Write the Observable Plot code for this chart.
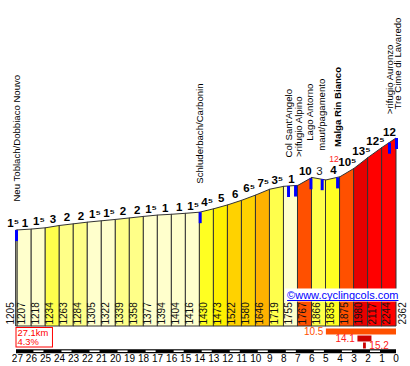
<!DOCTYPE html>
<html><head><meta charset="utf-8">
<script src="https://cdn.jsdelivr.net/npm/d3@7"></script>
<script src="https://cdn.jsdelivr.net/npm/@observablehq/plot@0.6"></script>
<style>body{margin:0;background:#fff}</style>
</head><body>
<div id="chart"></div>
<script>
// ---- data ----
const kmPoints = [27.1, 27, 26, 25, 24, 23, 22, 21, 20, 19, 18, 17, 16, 15, 14, 13, 12, 11, 10, 9, 8, 7, 6, 5, 4, 3, 2, 1, 0];
const elevations = [1205, 1207, 1218, 1234, 1263, 1284, 1305, 1322, 1339, 1358, 1377, 1394, 1404, 1416, 1430, 1473, 1522, 1580, 1646, 1719, 1755, 1767, 1866, 1835, 1875, 1980, 2117, 2244, 2362];
const gradientLabels = [1.5, 1, 1.5, 3, 2, 2, 1.5, 1.5, 2, 2, 1.5, 1, 1, 1.5, 4.5, 5, 6, 6.5, 7.5, 3.5, 1, 10, 3, 4, 10.5, 13.5, 12.5, 12];
const placeNames = ["Neu Toblach/Dobbiaco Nouvo", "Schluderbach/Carbonin", "Col Sant'Angelo", ">rifugio Alpino", "Lago Antorno", "maut/pagamento", "Malga Rin Bianco", ">rifugio Auronzo", "Tre Cime di Lavaredo"];
const placeKm = [27.1, 14, 7.7, 7.2, 6.1, 5.3, 4.2, 0.5, 0];
const kmTicks = [27, 26, 25, 24, 23, 22, 21, 20, 19, 18, 17, 16, 15, 14, 13, 12, 11, 10, 9, 8, 7, 6, 5, 4, 3, 2, 1, 0];
const climbLength = "27.1km";
const climbAverage = "4.3%";
const steepValues = [10.5, 14.1, 15.2];
const steepFromKm = [5, 2.75, 2.35];
const steepToKm = [0, 1.75, 2.15];
const noteKm = [4.2];
const noteText = ["12"];
const credit = "©www.cyclingcols.com";

// ---- layout / style ----
const W = 410, H = 366, mL = 16, mR = 14, mT = 138, mB = 40;
const yMax = d3.max(elevations);
const pxPerM = (H - mT - mB) / yMax;
const pxPerKm = (W - mL - mR) / 27.1;
const py = px => -px / pxPerM;           // pixel offset below baseline -> y units
const up = px => px / pxPerM;
const FONT = "Liberation Sans, Arial, DejaVu Sans, sans-serif";
// label placement tweaks (pixels) to keep names apart
const labelShift = {">rifugio Alpino": 3.5, "Lago Antorno": -1.4, "Tre Cime di Lavaredo": 1};
const labelLift = {"Lago Antorno": 38, "Malga Rin Bianco": 31};

function elevAt(km) {
  for (let i = 0; i < kmPoints.length - 1; i++) {
    const a = kmPoints[i], b = kmPoints[i + 1];
    if (km <= a && km >= b) {
      const t = (a - km) / (a - b);
      return elevations[i] + t * (elevations[i + 1] - elevations[i]);
    }
  }
  return elevations[elevations.length - 1];
}
const fmtGrad = g => Math.floor(g) + (g % 1 ? "\u2075" : "");

const segs = gradientLabels.map((g, i) => ({
  i, g, k0: kmPoints[i], k1: kmPoints[i + 1], e0: elevations[i], e1: elevations[i + 1],
  mid: (kmPoints[i] + kmPoints[i + 1]) / 2, top: Math.max(elevations[i], elevations[i + 1]),
  down: elevations[i + 1] < elevations[i], label: fmtGrad(g)
}));
const areaRows = segs.flatMap(s => [
  {seg: s.i, g: s.g, km: s.k0, elev: s.e0},
  {seg: s.i, g: s.g, km: s.k1, elev: s.e1}
]);
const pts = kmPoints.map((km, i) => ({km, elev: elevations[i], i}));
const places = placeNames.map((name, i) => ({
  name, km: placeKm[i], elev: elevAt(placeKm[i]),
  lx: placeKm[i] - (labelShift[name] || 0) / pxPerKm,
  ly: elevAt(placeKm[i]) + up(labelLift[name] || 29),
  bold: name === "Malga Rin Bianco"
}));
const steep = steepValues.map((v, i) => ({v, k0: steepFromKm[i], k1: steepToKm[i], i}));
const whiteKm = kmTicks.filter(k => k >= 2 && k % 2 === 0);
const notes = noteKm.map((km, i) => ({km, text: noteText[i], elev: elevAt(km)}));

const last = pts.length - 1;
const chart = Plot.plot({
  width: W, height: H, marginLeft: mL, marginRight: mR, marginTop: mT, marginBottom: mB,
  style: {fontFamily: FONT, background: "#fff", overflow: "visible"},
  x: {domain: [27.1, 0], axis: null},
  y: {domain: [0, yMax], axis: null},
  color: {type: "threshold", domain: [2, 3, 4, 5, 6, 7, 8, 9, 10, 11, 12, 13],
          range: ["#FFFFCC", "#FFFF88", "#FFFF4C", "#FFFF22", "#FFF000", "#FFD200", "#FFB200", "#FF9000", "#FF7000", "#FF5000", "#FF2800", "#FF0000", "#E60000"]},
  marks: [
    Plot.area(areaRows, {x1: "km", y1: 0, y2: "elev", z: "seg", fill: "g", stroke: "#333", strokeWidth: 1}),
    // elevation labels
    Plot.text(pts.filter(d => d.i > 0 && d.i < last), {x: "km", y: 0, text: d => String(d.elev), rotate: -90, textAnchor: "start", lineAnchor: "middle", dx: 4, dy: -2, fontSize: 10, fill: "#111"}),
    Plot.text(pts.filter(d => d.i === 0), {x: "km", y: 0, text: d => String(d.elev), rotate: -90, textAnchor: "start", lineAnchor: "middle", dx: -6, dy: -2, fontSize: 10, fill: "#111"}),
    Plot.text(pts.filter(d => d.i === last), {x: "km", y: 0, text: d => String(d.elev), rotate: -90, textAnchor: "start", lineAnchor: "middle", dx: 6, dy: -2, fontSize: 10, fill: "#111"}),
    // blue markers
    Plot.ruleX(places, {x: "km", y1: "elev", y2: d => d.elev + py(11), stroke: "#0000FF", strokeWidth: 3}),
    // gradient labels
    Plot.text(segs.filter(s => s.i > 0 && !s.down), {x: "mid", y: "top", text: "label", dy: -3, lineAnchor: "bottom", fontSize: 11.5, fontWeight: "bold", fill: "#000"}),
    Plot.text(segs.filter(s => s.i === 0), {x: "mid", y: "top", text: "label", dx: -4, dy: -3, lineAnchor: "bottom", fontSize: 11.5, fontWeight: "bold", fill: "#000"}),
    Plot.text(segs.filter(s => s.i > 0 && s.down), {x: "mid", y: "top", text: "label", dy: -3, lineAnchor: "bottom", fontSize: 11.5, fill: "#222"}),
    // place labels
    Plot.text(places.filter(p => !p.bold), {x: "lx", y: "ly", text: "name", rotate: -90, textAnchor: "start", lineAnchor: "middle", fontSize: 9.6, fill: "#000"}),
    Plot.text(places.filter(p => p.bold), {x: "lx", y: "ly", text: "name", rotate: -90, textAnchor: "start", lineAnchor: "middle", fontSize: 9.6, fontWeight: "bold", fill: "#000"}),
    // red note
    Plot.text(notes, {x: "km", y: "elev", text: "text", dx: -3.5, dy: -15.5, lineAnchor: "bottom", fontSize: 8.5, fill: "#FF2020"}),
    // credit
    Plot.text([credit], {x: 0, y: 0, text: d => d, dx: 2, dy: -28, textAnchor: "end", lineAnchor: "bottom", fontSize: 11, fill: "#0000FF"}),
    // climb summary box
    Plot.rect([0], {x1: 27.1, x2: 24.5, y1: py(1.5), y2: py(21), fill: "none", stroke: "#FF0000", strokeWidth: 1}),
    Plot.text([climbLength], {x: 27.1, y: py(6.2), text: d => d, dx: 1, textAnchor: "start", lineAnchor: "middle", fontSize: 9.4, fill: "#FF0000"}),
    Plot.text([climbAverage], {x: 27.1, y: py(15.9), text: d => d, dx: 1, textAnchor: "start", lineAnchor: "middle", fontSize: 9.4, fill: "#FF0000"}),
    // steepest stretches
    Plot.ruleY(steep, {x1: "k0", x2: "k1", y: d => py(5 + 7 * d.i), stroke: d => d.i === 0 ? "#FF5000" : "#CC0000", strokeWidth: 6}),
    Plot.text(steep.filter(d => d.i < 2), {x: "k0", y: d => py(5 + 7 * d.i), text: d => d.v.toFixed(1), dx: -3, textAnchor: "end", lineAnchor: "middle", fontSize: 10, fill: d => d.i === 0 ? "#FF5000" : "#FF2020"}),
    Plot.text(steep.filter(d => d.i === 2), {x: "k1", y: d => py(5 + 7 * d.i), text: d => d.v.toFixed(1), dx: 3, textAnchor: "start", lineAnchor: "middle", fontSize: 10, fill: "#FF2020"}),
    // km scale bar
    Plot.ruleY([0], {x1: 27.1, x2: 0, y: py(24.7), stroke: "#000", strokeWidth: 4}),
    Plot.ruleY(whiteKm, {x1: d => d, x2: d => d - 1, y: py(24.7), stroke: "#fff", strokeWidth: 1.6, insetLeft: 2, insetRight: 2}),
    Plot.text(kmTicks, {x: d => d, y: py(32.5), text: d => String(d), dx: -0.5, lineAnchor: "middle", fontSize: 10, fill: "#000"})
  ]
});
document.getElementById("chart").appendChild(chart);

// credit: white background and underline
const svg = d3.select(chart.tagName === "svg" ? chart : chart.querySelector("svg"));
svg.selectAll("text").filter(function () { return this.textContent === credit; }).each(function () {
  const bb = this.getBBox();
  const g = this.parentNode;
  const tr = this.getAttribute("transform") || "";
  d3.select(g).insert("rect", () => this)
    .attr("x", bb.x - 2).attr("y", bb.y).attr("width", bb.width + 3).attr("height", bb.height + 1)
    .attr("transform", tr).attr("fill", "#fff");
  d3.select(g).append("line")
    .attr("x1", bb.x).attr("x2", bb.x + bb.width).attr("y1", bb.y + bb.height).attr("y2", bb.y + bb.height)
    .attr("transform", tr).attr("stroke", "#0000FF").attr("stroke-width", 1);
});
</script>
</body></html>
